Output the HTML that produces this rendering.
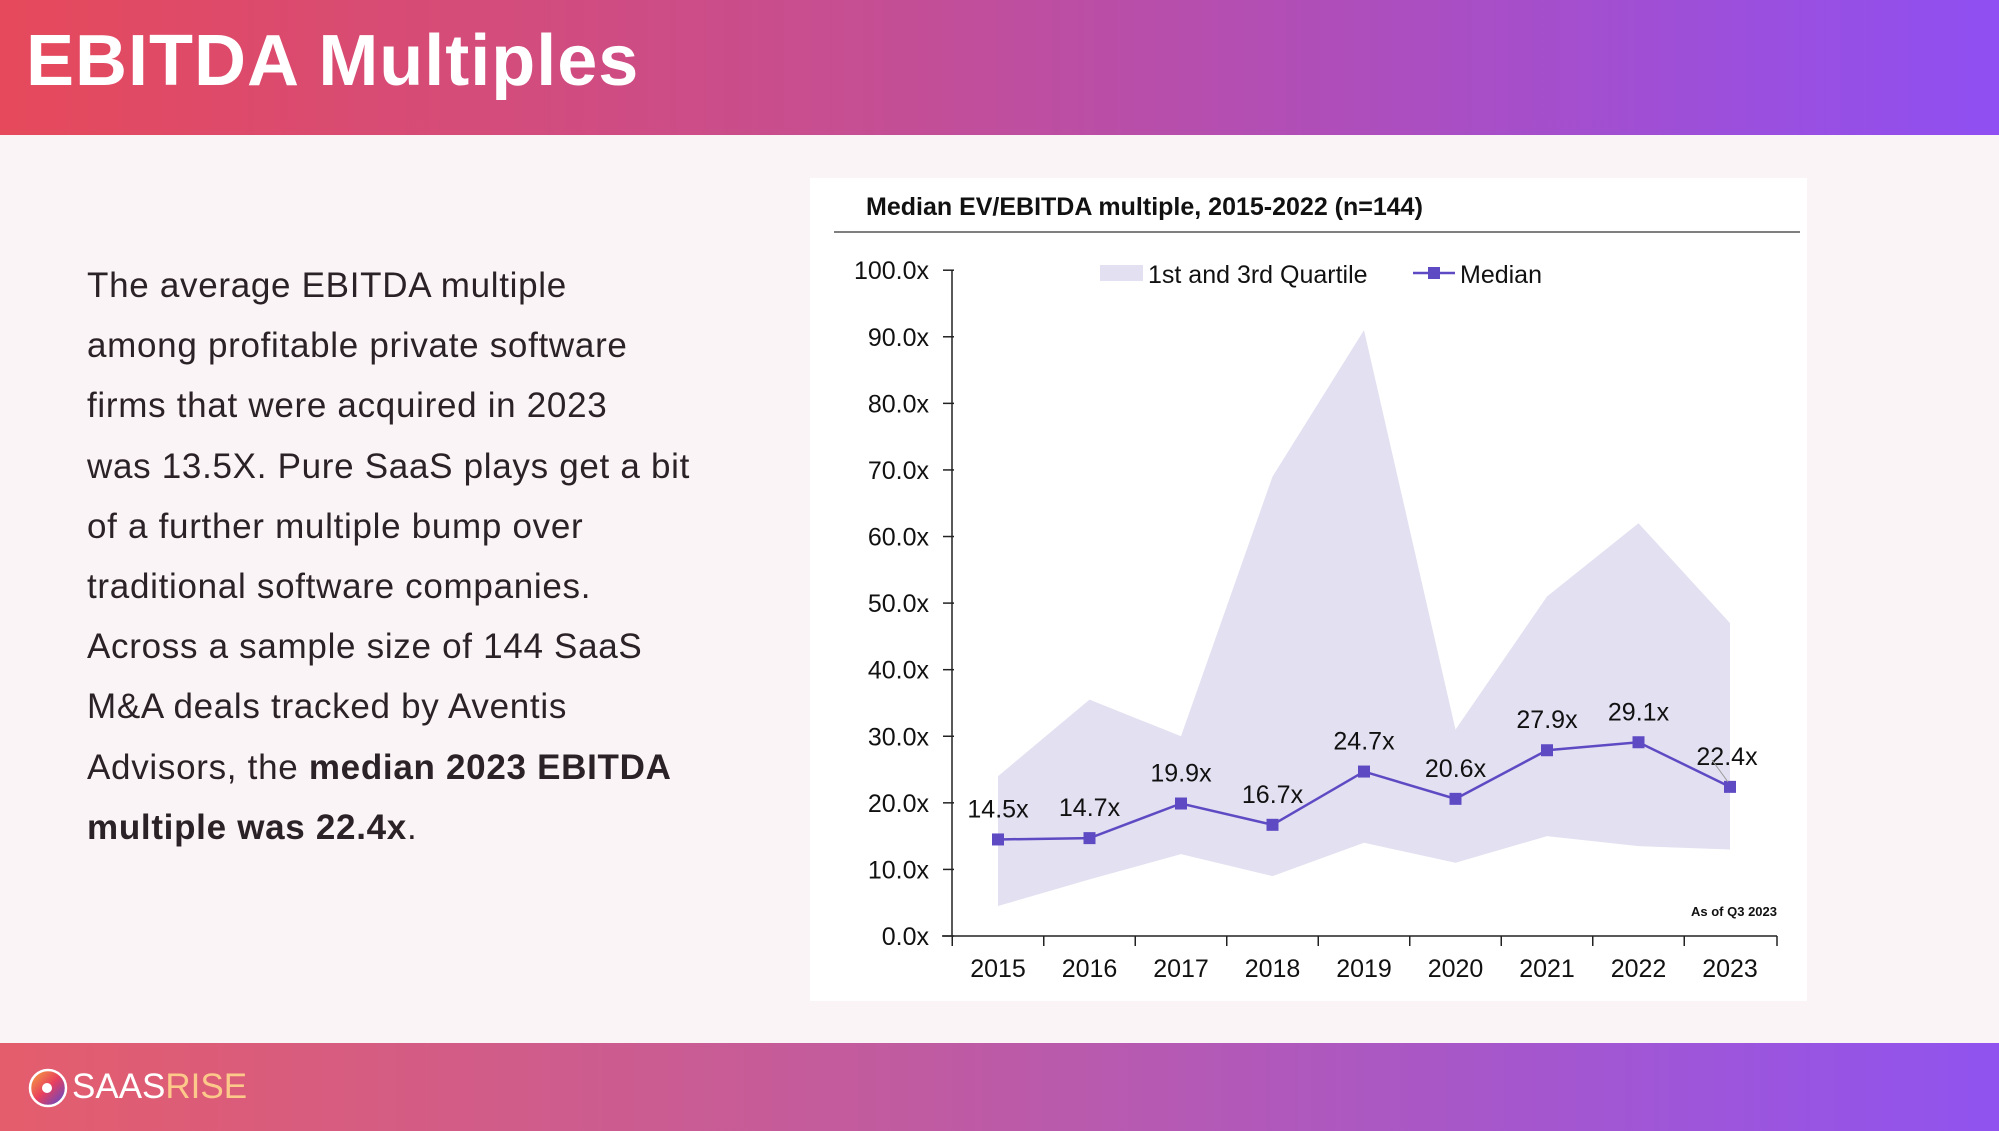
<!DOCTYPE html>
<html><head><meta charset="utf-8"><style>
body{margin:0;width:1999px;height:1131px;position:relative;overflow:hidden;background:#fbf4f6;font-family:"Liberation Sans",sans-serif}
#hdr{position:absolute;left:0;top:0;width:1999px;height:135px;background:linear-gradient(90deg,#e6495b,#c44e95 45%,#8f4ff2)}
#hdr h1{margin:0;position:absolute;left:26px;top:20px;color:#fff;font-size:72px;font-weight:bold;letter-spacing:1px}
#ftr{position:absolute;left:0;top:1043px;width:1999px;height:88px;background:linear-gradient(90deg,#e45d6c,#c15ba0 45%,#9053ef)}
#txt{position:absolute;left:87px;top:256px;font-size:35px;line-height:60.2px;color:#2a2226;letter-spacing:0.7px;white-space:nowrap}
#card{position:absolute;left:810px;top:178px;width:997px;height:823px;background:#fff}
</style></head><body>
<div id="hdr"><h1>EBITDA Multiples</h1></div>
<div id="txt">The average EBITDA multiple<br>among profitable private software<br>firms that were acquired in 2023<br>was 13.5X. Pure SaaS plays get a bit<br>of a further multiple bump over<br>traditional software companies.<br>Across a sample size of 144 SaaS<br>M&amp;A deals tracked by Aventis<br>Advisors, the <b>median 2023 EBITDA</b><br><b>multiple was 22.4x</b>.</div>
<div id="card"></div>
<svg id="chart" width="1999" height="1131" style="position:absolute;left:0;top:0"></svg>
<div id="ftr">
<svg width="40" height="40" style="position:absolute;left:28px;top:25px"><defs><linearGradient id="lg" x1="0" y1="0" x2="1" y2="1"><stop offset="0" stop-color="#f6a93b"/><stop offset=".5" stop-color="#e8405e"/><stop offset="1" stop-color="#4a4ad8"/></linearGradient></defs><circle cx="20" cy="20" r="18" fill="url(#lg)" stroke="#fff" stroke-width="2.5"/><circle cx="19" cy="20" r="5" fill="#fff"/></svg>
<div style="position:absolute;left:72px;top:24px;font-size:35px;color:#fff">SAAS<span style="color:#fcc98a">RISE</span></div>
</div>
<script>
const years=['2015','2016','2017','2018','2019','2020','2021','2022','2023'];
const median=[14.5,14.7,19.9,16.7,24.7,20.6,27.9,29.1,22.4];
const q3=[24,35.5,30,69,91,31,51,62,47];
const q1=[4.5,8.5,12.3,9,14,11,15,13.5,13];
const yTicks=[0,10,20,30,40,50,60,70,80,90,100];
const NS='http://www.w3.org/2000/svg';
const svg=document.getElementById('chart');
const X0=952,XR=1777,Y0=936,Y100=270.2;
const xs=i=>998+i*91.5;
const ys=v=>Y0-(v/100)*(Y0-Y100);
function mk(t,a,p){const e=document.createElementNS(NS,t);for(const k in a)e.setAttribute(k,a[k]);(p||svg).appendChild(e);return e;}
let t=mk('text',{x:866,y:215,'font-size':25,'font-weight':'bold',fill:'#111'});t.textContent='Median EV/EBITDA multiple, 2015-2022 (n=144)';


let l=mk('line',{x1:834,y1:232,x2:1800,y2:232,stroke:'#555','stroke-width':1.5});


let pts=years.map((y,i)=>xs(i)+','+ys(q3[i])).concat(years.map((y,i)=>xs(i)+','+ys(q1[i])).reverse());
let band=mk('polygon',{points:pts.join(' '),fill:'#e2e0f1'});


let ax=mk('line',{x1:X0,y1:Y100,x2:X0,y2:Y0,stroke:'#222','stroke-width':1.5});


let bx=mk('line',{x1:X0-10,y1:Y0,x2:XR,y2:Y0,stroke:'#222','stroke-width':1.5});


yTicks.forEach(v=>{mk('line',{x1:X0-9,y1:ys(v),x2:X0+2,y2:ys(v),stroke:'#222','stroke-width':1.5});
const e=mk('text',{x:929,y:ys(v)+9,'text-anchor':'end','font-size':25,fill:'#111'});e.textContent=v.toFixed(1)+'x';

});
for(let i=0;i<=years.length;i++){const xx=i<years.length?xs(i)-45.75:XR;mk('line',{x1:xx,y1:Y0,x2:xx,y2:Y0+10,stroke:'#222','stroke-width':1.5});}
years.forEach((y,i)=>{const e=mk('text',{x:xs(i),y:977,'text-anchor':'middle','font-size':25,fill:'#111'});e.textContent=y;

});
let pl=mk('polyline',{points:median.map((v,i)=>xs(i)+','+ys(v)).join(' '),fill:'none',stroke:'#5e4bc4','stroke-width':2.5});


median.forEach((v,i)=>{const r=mk('rect',{x:xs(i)-6,y:ys(v)-6,width:12,height:12,fill:'#5e4bc4'});


const e=mk('text',{x:xs(i)+(i==8?-3:0),y:ys(v)-22,'text-anchor':'middle','font-size':25,fill:'#111'});e.textContent=v.toFixed(1)+'x';

});
mk('line',{x1:1712,y1:760,x2:1728,y2:782,stroke:'#999','stroke-width':1});
let sw=mk('rect',{x:1100,y:265,width:43,height:16,fill:'#e2e0f1'});


t=mk('text',{x:1148,y:283,'font-size':25,fill:'#111'});t.textContent='1st and 3rd Quartile';


mk('line',{x1:1413,y1:273,x2:1455,y2:273,stroke:'#5e4bc4','stroke-width':2.5});
mk('rect',{x:1428,y:267,width:12,height:12,fill:'#5e4bc4'});
t=mk('text',{x:1460,y:283,'font-size':25,fill:'#111'});t.textContent='Median';


t=mk('text',{x:1777,y:916,'text-anchor':'end','font-size':13,'font-weight':'bold',fill:'#111'});t.textContent='As of Q3 2023';


</script>
</body></html>
